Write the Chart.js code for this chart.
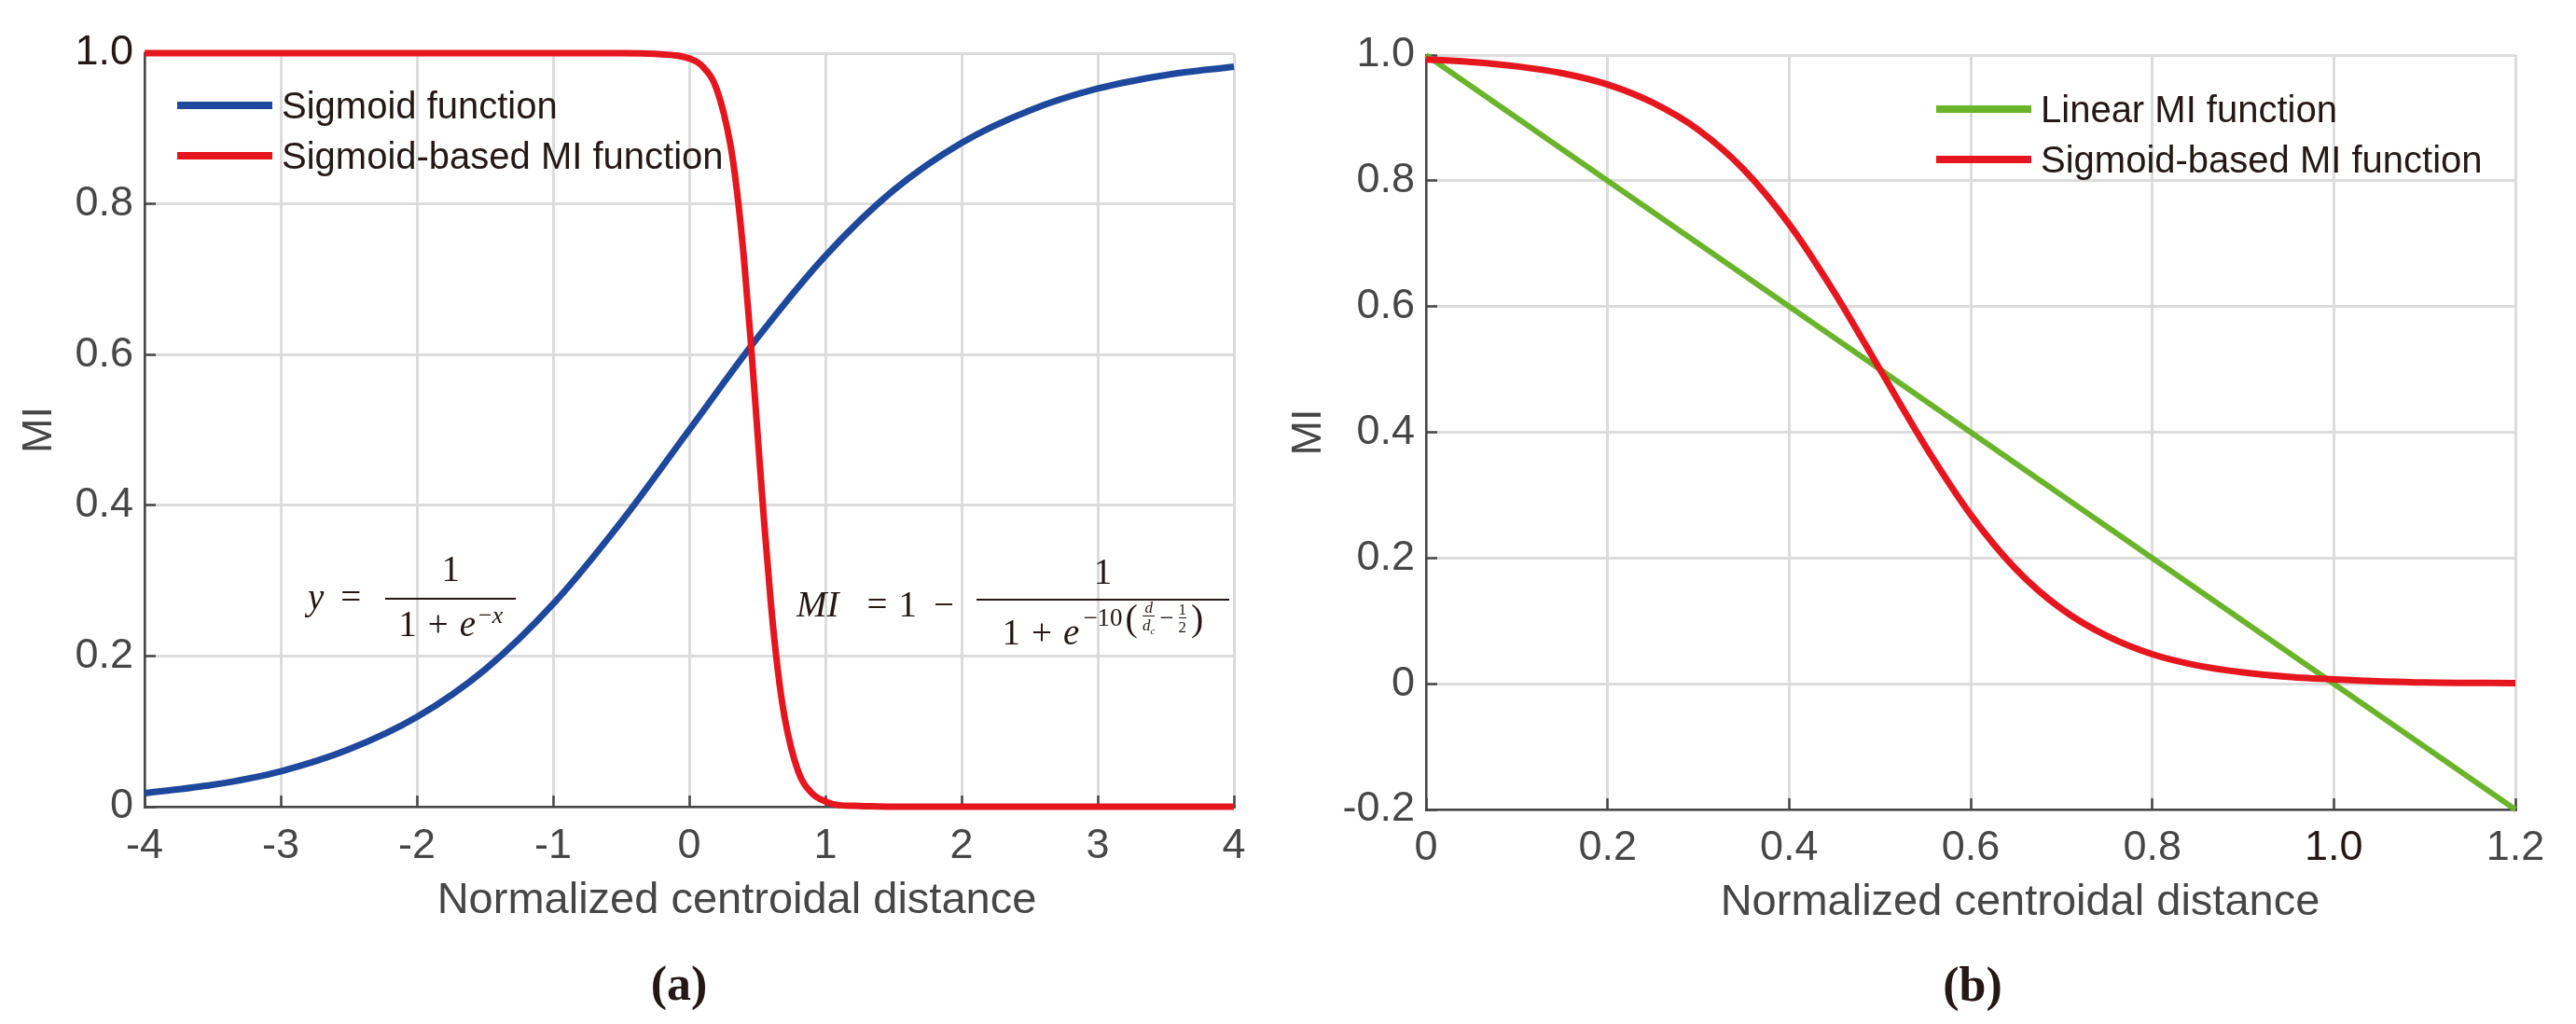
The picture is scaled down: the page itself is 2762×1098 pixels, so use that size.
<!DOCTYPE html>
<html>
<head>
<meta charset="utf-8">
<script src="https://cdn.jsdelivr.net/npm/chart.js@4.4.1/dist/chart.umd.min.js"></script>
<style>
  body { margin: 0; background: #fff; }
  #fig { position: relative; width: 2762px; height: 1098px; overflow: hidden; background: #fff;
         font-family: "Liberation Sans", Arial, sans-serif; }
  canvas { position: absolute; top: 0; }
  .xtitle { position: absolute; font-size: 47px; line-height: 1; color: #464646;
            transform: translateX(-50%); white-space: nowrap; }
  .caption { position: absolute; font-family: "Liberation Serif", "Times New Roman", serif;
             font-weight: bold; font-size: 52px; line-height: 1; color: #231815; transform: translateX(-50%); }
  .legend { position: absolute; }
  .legend .row { display: flex; align-items: center; height: 54px; }
  .legend .swatch { width: 102px; height: 8px; margin-right: 10px; }
  .legend .text { font-size: 40px; line-height: 1; color: #231815; white-space: nowrap; }
  .eq { position: absolute; display: flex; align-items: center; font-family: "Liberation Serif", "Times New Roman", serif;
        font-size: 39px; line-height: 1; color: #231815; white-space: nowrap; }
  .frac { display: inline-flex; flex-direction: column; align-items: center; }
  .frac .num { padding-bottom: 12px; }
  .frac .den { align-self: stretch; text-align: center; border-top: 2px solid #231815; padding-top: 6px; }
  .sup { display: inline-flex; align-items: center; position: relative; top: -20px; font-size: 27px; }
  .paren { font-size: 40px; }
  .sfrac { display: inline-flex; flex-direction: column; align-items: center; font-size: 17px; margin: 0 5px; }
  .sfrac span:last-child { border-top: 1.5px solid #231815; padding-top: 1px; }
</style>
</head>
<body>
<div id="fig">
  <canvas id="left" width="1381" height="1098" style="left:0"></canvas>
  <canvas id="right" width="1381" height="1098" style="left:1381px"></canvas>

  <div class="legend" id="legendLeft" style="left:190px; top:86px"></div>
  <div class="legend" id="legendRight" style="left:2076px; top:90px"></div>

  <div class="eq" style="left:330px; top:590px">
    <i>y</i><span style="margin-left:18px">=</span>
    <span class="frac" style="margin-left:26px; width:140px">
      <span class="num">1</span>
      <span class="den">1<span style="margin:0 12px">+</span><i>e</i><span class="sup" style="top:-14px; font-size:26px; margin-left:3px">−<i>x</i></span></span>
    </span>
  </div>

  <div class="eq" style="left:854px; top:593px">
    <i>MI</i><span style="margin-left:30px">=</span><span style="margin-left:12px">1</span><span style="margin-left:18px">−</span>
    <span class="frac" style="margin-left:24px; width:271px">
      <span class="num" style="padding-bottom:10px">1</span>
      <span class="den" style="padding-top:14px">1<span style="margin:0 12px">+</span><i>e</i><span class="sup" style="margin-left:4px">−10<span class="paren" style="margin-left:3px">(</span><span class="sfrac"><i>d</i><span><i>d</i><sub style="font-size:11px"><i>c</i></sub></span></span>−<span class="sfrac"><span>1</span><span>2</span></span><span class="paren">)</span></span></span>
    </span>
  </div>

  <div class="xtitle" style="left:790px; top:939px">Normalized centroidal distance</div>
  <div class="xtitle" style="left:2166px; top:941px">Normalized centroidal distance</div>
  <div class="caption" style="left:728px; top:1029px">(a)</div>
  <div class="caption" style="left:2115px; top:1030px">(b)</div>
</div>

<script>
// (a) sigmoid function
const sigX = [-4, -3.5, -3, -2.5, -2, -1.5, -1, -0.5, 0, 0.5, 1, 1.5, 2, 2.5, 3, 3.5, 4];
const sigY = [0.018, 0.029, 0.047, 0.076, 0.119, 0.182, 0.269, 0.378, 0.5, 0.622, 0.731, 0.818, 0.881, 0.924, 0.953, 0.971, 0.982];

// (a) sigmoid-based MI function, red curve
const miLeftX = [-4, -3, -2, -1, -0.5, -0.25, 0, 0.1, 0.2, 0.3, 0.35, 0.4, 0.45, 0.5, 0.55, 0.6, 0.65, 0.7, 0.8, 0.9, 1, 1.1, 1.25, 1.5, 2, 3, 4];
const miLeftY = [1, 1, 1, 1, 1, 0.999, 0.993, 0.982, 0.953, 0.881, 0.818, 0.731, 0.622, 0.5, 0.378, 0.269, 0.182, 0.119, 0.047, 0.018, 0.007, 0.002, 0.001, 0, 0, 0, 0];

// (b) linear MI function, green line
const linX = [0, 0.5, 1.0, 1.2];
const linY = [1, 0.5, 0, -0.2];

// (b) sigmoid-based MI function, red curve
const miRightX = [0, 0.05, 0.1, 0.15, 0.2, 0.25, 0.3, 0.35, 0.4, 0.45, 0.5, 0.55, 0.6, 0.65, 0.7, 0.75, 0.8, 0.85, 0.9, 0.95, 1.0, 1.1, 1.2];
const miRightY = [0.993, 0.989, 0.982, 0.971, 0.953, 0.924, 0.881, 0.818, 0.731, 0.622, 0.5, 0.378, 0.269, 0.182, 0.119, 0.076, 0.047, 0.029, 0.018, 0.011, 0.007, 0.002, 0.001];

// tick positions and labels
const leftXTicks = [-4, -3, -2, -1, 0, 1, 2, 3, 4];
const leftXLabels = ['-4', '-3', '-2', '-1', '0', '1', '2', '3', '4'];
const leftYTicks = [0, 0.2, 0.4, 0.6, 0.8, 1.0];
const leftYLabels = ['0', '0.2', '0.4', '0.6', '0.8', '1.0'];
const rightXTicks = [0, 0.2, 0.4, 0.6, 0.8, 1.0, 1.2];
const rightXLabels = ['0', '0.2', '0.4', '0.6', '0.8', '1.0', '1.2'];
const rightYTicks = [-0.2, 0, 0.2, 0.4, 0.6, 0.8, 1.0];
const rightYLabels = ['-0.2', '0', '0.2', '0.4', '0.6', '0.8', '1.0'];

const BLUE = '#1d489b';
const RED = '#e6161e';
const GREEN = '#6ab42c';
const AXIS = '#464646';
const DARK = '#231815';

const pts = (xs, ys) => xs.map((x, i) => ({ x: x, y: ys[i] }));

function line(label, data, color, width, order) {
  return {
    label: label,
    data: data,
    borderColor: color,
    backgroundColor: color,
    borderWidth: width,
    pointRadius: 0,
    cubicInterpolationMode: 'monotone',
    fill: false,
    clip: false,
    order: order
  };
}

// one axis; size is the forced width (y) or height (x) of the scale box
function axis(min, max, ticks, labels, darkLabel, size, isY, padding, title) {
  return {
    type: 'linear',
    min: min,
    max: max,
    afterBuildTicks: s => { s.ticks = ticks.map(v => ({ value: v })); },
    afterFit: s => { if (isY) s.width = size; else s.height = size; },
    grid: { color: '#dcdcdc', lineWidth: 3, tickLength: -12, tickColor: AXIS, tickWidth: 2.5 },
    border: { color: AXIS, width: 2.5 },
    ticks: {
      padding: padding,
      font: { family: 'Liberation Sans', size: 45, lineHeight: 1.2 },
      color: ctx => labels[ctx.index] === darkLabel ? DARK : AXIS,
      callback: (v, i) => labels[i]
    },
    title: title || { display: false }
  };
}

function yTitle(pad) {
  return { display: true, text: 'MI', color: AXIS, font: { family: 'Liberation Sans', size: 45, lineHeight: 1 }, padding: { top: pad, bottom: 0 } };
}

function baseOptions(pad, scales) {
  return {
    responsive: false,
    animation: false,
    devicePixelRatio: 1,
    layout: { padding: pad },
    plugins: { legend: { display: false }, tooltip: { enabled: false } },
    scales: scales
  };
}

const leftChart = new Chart(document.getElementById('left'), {
  type: 'line',
  data: {
    datasets: [
      line('Sigmoid function', pts(sigX, sigY), BLUE, 7, 1),
      line('Sigmoid-based MI function', pts(miLeftX, miLeftY), RED, 7, 0)
    ]
  },
  options: baseOptions({ left: 0, top: 57, right: 58, bottom: 0 }, {
    x: axis(-4, 4, leftXTicks, leftXLabels, null, 1098 - 865, false, 28),
    y: axis(0, 1, leftYTicks, leftYLabels, '1.0', 155, true, 24, yTitle(20))
  })
});

const rightChart = new Chart(document.getElementById('right'), {
  type: 'line',
  data: {
    datasets: [
      line('Linear MI function', pts(linX, linY), GREEN, 6, 1),
      line('Sigmoid-based MI function', pts(miRightX, miRightY), RED, 7, 0)
    ]
  },
  options: baseOptions({ left: 0, top: 59, right: 65, bottom: 0 }, {
    x: axis(0, 1.2, rightXTicks, rightXLabels, '1.0', 1098 - 868, false, 27),
    y: axis(-0.2, 1.0, rightYTicks, rightYLabels, null, 148, true, 24, yTitle(0))
  })
});

function buildLegend(chart, el) {
  chart.data.datasets.forEach(ds => {
    const row = document.createElement('div');
    row.className = 'row';
    const sw = document.createElement('span');
    sw.className = 'swatch';
    sw.style.background = ds.borderColor;
    const tx = document.createElement('span');
    tx.className = 'text';
    tx.textContent = ds.label;
    row.appendChild(sw);
    row.appendChild(tx);
    el.appendChild(row);
  });
}
buildLegend(leftChart, document.getElementById('legendLeft'));
buildLegend(rightChart, document.getElementById('legendRight'));
</script>
</body>
</html>
